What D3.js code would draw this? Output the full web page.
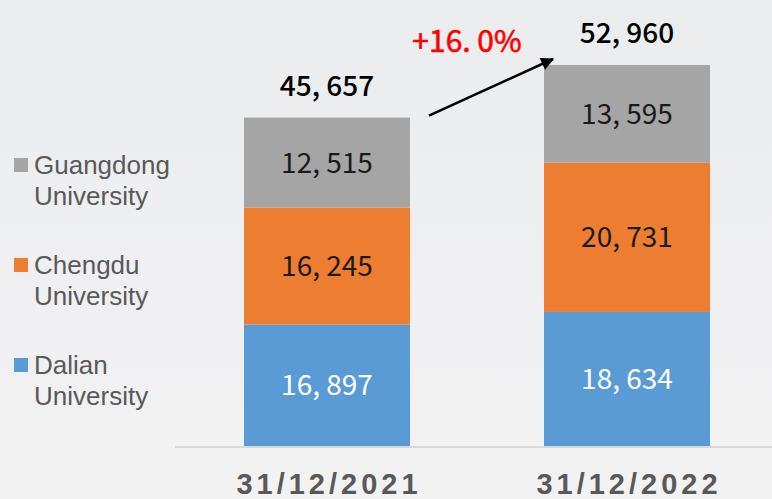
<!DOCTYPE html>
<html lang="en">
<head>
    <meta charset="utf-8">
    <script src='https://d3js.org/d3.v7.min.js'></script>
    <style>
        body { margin: 0; }
        svg { display: block; }
    </style>
</head>
<body>
    <script>
        // data
        const dates = ["31/12/2021", "31/12/2022"]
        const series = ["Dalian University", "Chengdu University", "Guangdong University"]
        const dalian = [16897, 18634]
        const chengdu = [16245, 20731]
        const guangdong = [12515, 13595]
        const totals = [45657, 52960]

        const colors = ["#5b9bd5", "#ed7d31", "#a5a5a5"]
        const labelColors = ["#ffffff", "#1a1a1a", "#1a1a1a"]

        const width = 772, height = 499

        const svg = d3.select("body")
            .append("svg")
            .attr("width", width)
            .attr("height", height)

        const defs = svg.append("defs")
        const grad = defs.append("linearGradient")
            .attr("id", "bg").attr("x1", 0).attr("y1", 0).attr("x2", 0).attr("y2", 1)
        grad.append("stop").attr("offset", "0%").attr("stop-color", "#ebecee")
        grad.append("stop").attr("offset", "100%").attr("stop-color", "#f2f2f3")

        svg.append("rect")
            .attr("width", width).attr("height", height)
            .attr("fill", "url(#bg)")

        const xScale = d3.scalePoint()
            .domain(dates)
            .range([327, 627])
        const barW = 166

        const yScale = d3.scaleLinear()
            .domain([0, 52960])
            .range([446, 65])

        // stack the three series
        const rows = dates.map((d, i) => ({
            date: d,
            [series[0]]: dalian[i],
            [series[1]]: chengdu[i],
            [series[2]]: guangdong[i]
        }))
        const stacked = d3.stack().keys(series)(rows)

        const layers = svg.append("g")
            .selectAll("g")
            .data(stacked)
            .enter()
            .append("g")
            .attr("fill", (d, i) => colors[i])

        layers.selectAll("rect")
            .data(d => d)
            .enter()
            .append("rect")
            .attr("x", d => xScale(d.data.date) - barW / 2)
            .attr("y", d => yScale(d[1]))
            .attr("width", barW)
            .attr("height", d => yScale(d[0]) - yScale(d[1]))

        const fmt = v => d3.format(",")(v).replace(",", ", ")

        // values inside segments
        stacked.forEach((layer, li) => {
            svg.append("g")
                .selectAll("text")
                .data(layer)
                .enter()
                .append("text")
                .attr("x", d => xScale(d.data.date))
                .attr("y", d => (yScale(d[0]) + yScale(d[1])) / 2 + 10)
                .attr("text-anchor", "middle")
                .attr("font-family", "'Noto Sans CJK SC', 'Noto Sans', sans-serif")
                .attr("font-size", 28)
                .attr("fill", labelColors[li])
                .text(d => fmt(d[1] - d[0]))
        })

        // totals above bars
        svg.append("g")
            .selectAll("text")
            .data(totals)
            .enter()
            .append("text")
            .attr("x", (d, i) => xScale(dates[i]))
            .attr("y", d => yScale(d) - 22)
            .attr("text-anchor", "middle")
            .attr("font-family", "'Noto Sans CJK SC', 'Noto Sans', sans-serif")
            .attr("font-size", 28)
            .attr("font-weight", 500)
            .attr("fill", "#000")
            .text(d => fmt(d))

        // baseline
        svg.append("line")
            .attr("x1", 175).attr("x2", width)
            .attr("y1", yScale(0) + 1).attr("y2", yScale(0) + 1)
            .attr("stroke", "#d9d9d9")
            .attr("stroke-width", 2)

        // x axis labels
        svg.append("g")
            .selectAll("text")
            .data(dates)
            .enter()
            .append("text")
            .attr("x", d => xScale(d) + 2)
            .attr("y", 494)
            .attr("text-anchor", "middle")
            .attr("font-family", "'Liberation Sans', Arial, sans-serif")
            .attr("font-size", 29)
            .attr("font-weight", "bold")
            .attr("letter-spacing", "4px")
            .attr("fill", "#595959")
            .text(d => d)

        // growth arrow
        defs.append("marker")
            .attr("id", "head")
            .attr("viewBox", "0 0 10 10")
            .attr("refX", 9).attr("refY", 5)
            .attr("markerWidth", 15).attr("markerHeight", 13)
            .attr("markerUnits", "userSpaceOnUse")
            .attr("orient", "auto")
            .append("path")
            .attr("d", "M0,0 L10,5 L0,10 z")
            .attr("fill", "#000")

        const ax1 = xScale(dates[0]) + barW / 2 + 19
        const ay1 = yScale(totals[0]) - 2
        const ax2 = xScale(dates[1]) - barW / 2 + 9
        const ay2 = yScale(totals[1]) - 6

        svg.append("line")
            .attr("x1", ax1).attr("y1", ay1)
            .attr("x2", ax2).attr("y2", ay2)
            .attr("stroke", "#000")
            .attr("stroke-width", 2.5)
            .attr("marker-end", "url(#head)")

        const growth = (totals[1] / totals[0] - 1) * 100
        svg.append("text")
            .attr("x", 467)
            .attr("y", 52)
            .attr("text-anchor", "middle")
            .attr("font-family", "'Noto Sans CJK SC', 'Noto Sans', sans-serif")
            .attr("font-size", 30)
            .attr("stroke", "#ff0000")
            .attr("stroke-width", 0.6)
            .attr("fill", "#ff0000")
            .text("+" + growth.toFixed(1).replace(".", ". ") + "%")

        // legend (top to bottom: Guangdong, Chengdu, Dalian)
        const legendOrder = [2, 1, 0]
        const legend = svg.append("g")
            .selectAll("g")
            .data(legendOrder)
            .enter()
            .append("g")
            .attr("transform", (d, i) => "translate(14," + (158 + i * 100) + ")")

        legend.append("rect")
            .attr("width", 14).attr("height", 14)
            .attr("fill", d => colors[d])

        legend.append("text")
            .attr("font-family", "'Liberation Sans', Arial, sans-serif")
            .attr("font-size", 26)
            .attr("fill", "#595959")
            .selectAll("tspan")
            .data(d => series[d].split(" "))
            .enter()
            .append("tspan")
            .attr("x", 20)
            .attr("y", (d, i) => 16 + i * 31)
            .text(d => d)
    </script>
</body>
</html>
